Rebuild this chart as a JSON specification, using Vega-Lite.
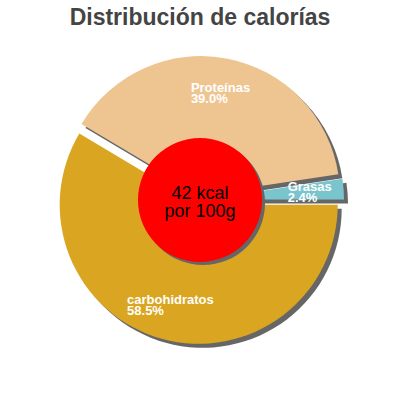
{
  "$schema": "https://vega.github.io/schema/vega-lite/v6.json",
  "autosize": {"type": "none"},
  "padding": {"top": 30, "left": 0, "right": 0, "bottom": 30},
  "width": 400,
  "height": 340,
  "background": "white",
  "title": {
    "text": "Distribución de calorías",
    "font": "Liberation Sans",
    "fontSize": 23,
    "fontWeight": "bold",
    "color": "#444444",
    "anchor": "middle",
    "offset": 0
  },
  "config": {"view": {"stroke": null}},
  "layer": [
    {
      "data": {
        "values": [
          {"nutriente": "carbohidratos", "pct": 58.5},
          {"nutriente": "Proteínas", "pct": 39.0},
          {"nutriente": "Grasas", "pct": 2.4}
        ]
      },
      "transform": [
        {"stack": "pct", "groupby": [], "as": ["t0", "t1"], "sort": [{"field": "pct", "order": "descending"}]},
        {"calculate": "(datum.t0 + datum.t1) / 2", "as": "tm"},
        {"calculate": "[datum.nutriente, format(datum.pct, '.1f') + '%']", "as": "etiqueta"}
      ],
      "encoding": {
        "theta": {"field": "t0", "type": "quantitative", "scale": {"domain": [0, 99.9], "range": [1.5707963, 7.8539816]}},
        "theta2": {"field": "t1"}
      },
      "layer": [
        {
          "transform": [{"filter": "datum.nutriente == 'carbohidratos'"}],
          "mark": {"type": "arc", "radius": 139, "color": "#666666", "xOffset": 2.7, "yOffset": 8.8}
        },
        {
          "transform": [{"filter": "datum.nutriente == 'Proteínas'"}],
          "mark": {"type": "arc", "radius": 139, "color": "#666666", "xOffset": 4.9, "yOffset": -0.9}
        },
        {
          "transform": [{"filter": "datum.nutriente == 'Grasas'"}],
          "mark": {"type": "arc", "radius": 139, "color": "#666666", "xOffset": 9, "yOffset": 3.6}
        },
        {
          "transform": [{"filter": "datum.nutriente == 'carbohidratos'"}],
          "mark": {"type": "arc", "radius": 139, "xOffset": -1.3, "yOffset": 4.8},
          "encoding": {
            "color": {"field": "nutriente", "type": "nominal", "legend": null,
              "scale": {"domain": ["carbohidratos", "Proteínas", "Grasas"], "range": ["#DAA520", "#EEC591", "#7AC5CD"]}}
          }
        },
        {
          "transform": [{"filter": "datum.nutriente == 'Proteínas'"}],
          "mark": {"type": "arc", "radius": 139, "xOffset": 0.9, "yOffset": -4.9},
          "encoding": {
            "color": {"field": "nutriente", "type": "nominal", "legend": null}
          }
        },
        {
          "transform": [{"filter": "datum.nutriente == 'Grasas'"}],
          "mark": {"type": "arc", "radius": 139, "xOffset": 5, "yOffset": -0.4},
          "encoding": {
            "color": {"field": "nutriente", "type": "nominal", "legend": null}
          }
        },
        {
          "transform": [{"filter": "datum.nutriente == 'carbohidratos'"}],
          "mark": {"type": "text", "radius": 104, "align": "left", "baseline": "middle", "dx": -44, "dy": -5, "xOffset": -1.3, "yOffset": 4.8,
            "font": "Liberation Sans", "fontSize": 13, "fontWeight": "bold", "lineHeight": 11, "color": "white"},
          "encoding": {
            "theta": {"field": "tm", "type": "quantitative"},
            "theta2": null,
            "text": {"field": "etiqueta"}
          }
        },
        {
          "transform": [{"filter": "datum.nutriente == 'Proteínas'"}],
          "mark": {"type": "text", "radius": 104, "align": "left", "baseline": "middle", "dx": -30, "dy": -5, "xOffset": 0.9, "yOffset": -4.9,
            "font": "Liberation Sans", "fontSize": 13, "fontWeight": "bold", "lineHeight": 11, "color": "white"},
          "encoding": {
            "theta": {"field": "tm", "type": "quantitative"},
            "theta2": null,
            "text": {"field": "etiqueta"}
          }
        },
        {
          "transform": [{"filter": "datum.nutriente == 'Grasas'"}],
          "mark": {"type": "text", "radius": 104, "align": "left", "baseline": "middle", "dx": -21, "dy": -5, "xOffset": 5, "yOffset": -0.4,
            "font": "Liberation Sans", "fontSize": 13, "fontWeight": "bold", "lineHeight": 11, "color": "white"},
          "encoding": {
            "theta": {"field": "tm", "type": "quantitative"},
            "theta2": null,
            "text": {"field": "etiqueta"}
          }
        }
      ]
    },
    {
      "data": {"values": [{"kcal": 42}]},
      "transform": [{"calculate": "[datum.kcal + ' kcal', 'por 100g']", "as": "texto"}],
      "layer": [
        {
          "mark": {"type": "point", "shape": "circle", "filled": true, "size": 15394, "color": "#666666", "opacity": 1, "strokeWidth": 0, "xOffset": 3, "yOffset": 3},
          "encoding": {}
        },
        {
          "mark": {"type": "point", "shape": "circle", "filled": true, "size": 15394, "color": "#FF0000", "opacity": 1, "strokeWidth": 0},
          "encoding": {}
        },
        {
          "mark": {"type": "text", "font": "Liberation Sans", "fontSize": 18, "lineHeight": 18, "baseline": "middle", "align": "center", "dy": -6, "color": "black"},
          "encoding": {"text": {"field": "texto"}}
        }
      ]
    }
  ]
}
